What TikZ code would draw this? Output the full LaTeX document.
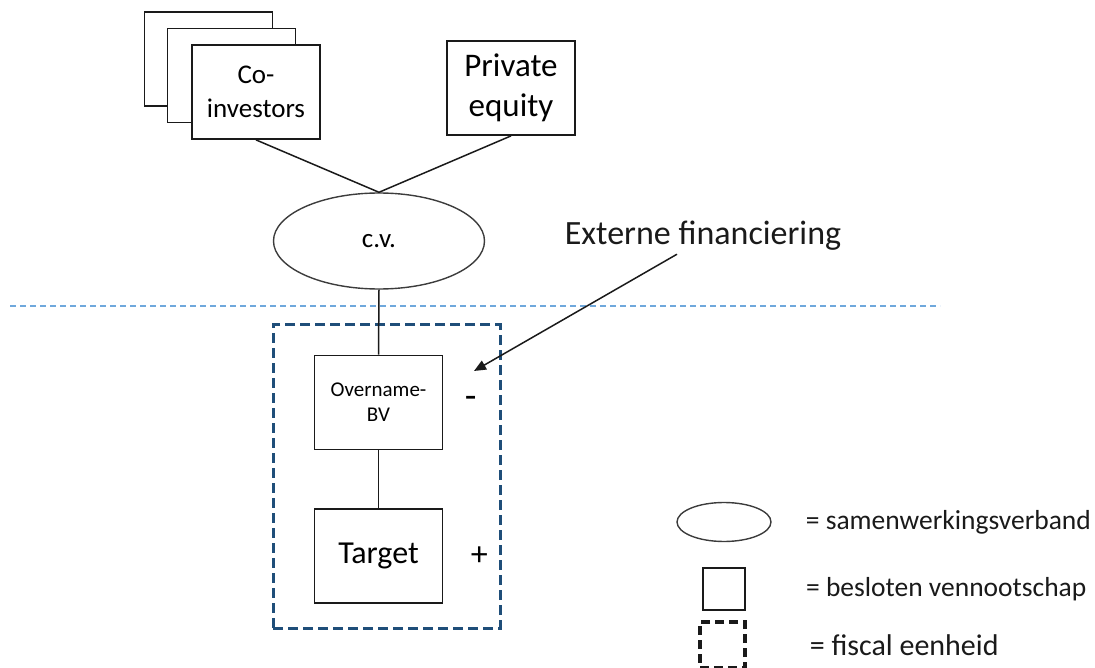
\documentclass[tikz,border=0pt]{standalone}
\usepackage{fontspec}
\setmainfont{Carlito}
\usetikzlibrary{arrows.meta,positioning,shapes.geometric}
\definecolor{Ink}{HTML}{1A1A1A}
\definecolor{SepBlue}{HTML}{6FA8DC}
\definecolor{FiscalBlue}{HTML}{1F4E79}
\tikzset{entity/.style={draw=Ink,fill=white,line width=1.8pt,minimum width=128pt,minimum height=94pt,align=center,inner sep=2pt},partner/.style={ellipse,draw=Ink!85,line width=1.4pt,minimum width=211pt,minimum height=96pt,inner sep=0pt},link/.style={draw=Ink,line width=1.5pt},pointer/.style={draw=Ink,line width=1.5pt,-{Triangle[length=12pt,width=10pt]}},separator/.style={draw=SepBlue,line width=1.4pt,dash pattern=on 6pt off 4pt},fiscal/.style={draw=FiscalBlue,line width=3pt,dash pattern=on 10pt off 5pt,minimum width=227pt,minimum height=303pt},legtext/.style={inner sep=0pt,text=Ink}}

\begin{document}
\begin{tikzpicture}[x=1pt,y=-1pt]
      \useasboundingbox (0,0) rectangle (1095,668);
      \node[entity](back) at (208.5,59){};
      \node[entity](middle) at (231.5,75.5){};
      \node[entity,font=\fontsize{27}{34}\selectfont](coinv) at (256,92){Co-\\investors};
      \node[entity,font=\fontsize{33}{40}\selectfont](pe) at (511,88){Private\\equity};
      \node[partner,font=\fontsize{27}{30}\selectfont](cv) at (379,241){c.v.};
      \draw[link](coinv.south)--(cv.north)--(pe.south);
      \draw[separator](10,306)--(940,306);
      \node[fiscal](unit) at (386.5,476.5){};
      \node[entity,font=\fontsize{21}{25}\selectfont](bv) at (378.5,402.5){Overname-\\BV};
      \node[entity,font=\fontsize{32}{38}\selectfont,below=58pt of bv](target){Target};
      \draw[link](cv.south)--(bv.north);\draw[link](bv.south)--(target.north);
      \node[font=\fontsize{38}{40}\selectfont,right=18pt of bv](minus){-};
      \node[font=\fontsize{34}{38}\selectfont,right=24pt of target](plus){+};
      \node[font=\fontsize{34}{40}\selectfont,text=Ink](ext) at (703,236){Externe financiering};
      \coordinate(finin) at (474,371);
      \draw[pointer]([xshift=-26pt]ext.south)--(finin);
      % legenda
      \node[partner,minimum width=94pt,minimum height=39pt](legcv) at (724,522){};
      \node[entity,minimum width=42pt,minimum height=42pt](legbv) at (724,589){};
      \node[draw=Ink,line width=3.2pt,dash pattern=on 9pt off 5pt,minimum width=45pt,minimum height=46pt](legunit) at (722.5,645){};
      \node[legtext,font=\fontsize{27.5}{30}\selectfont,right=34pt of legcv]{= samenwerkingsverband};
      \node[legtext,font=\fontsize{27.5}{30}\selectfont,right=60pt of legbv]{= besloten vennootschap};
      \node[legtext,font=\fontsize{30}{34}\selectfont,right=63pt of legunit]{= fiscal eenheid};
    \end{tikzpicture}
\end{document}
